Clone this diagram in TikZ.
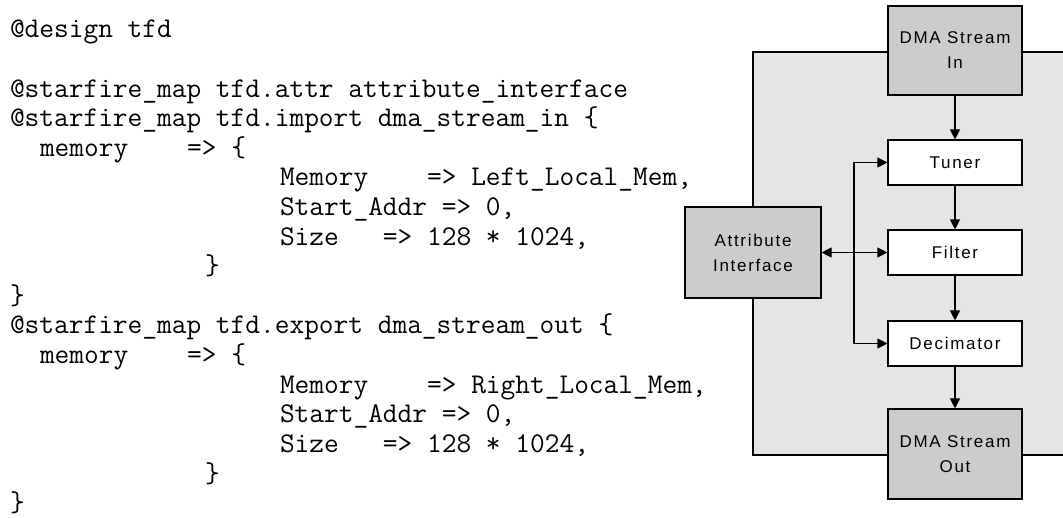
\documentclass[tikz,border=0pt]{standalone}
\usepackage{fontspec}
\setmainfont{Liberation Sans}
\newfontfamily\diagfont{Liberation Sans}[LetterSpace=10]
\usetikzlibrary{arrows.meta}
\definecolor{bggray}{HTML}{E5E5E5}
\definecolor{boxgray}{HTML}{CCCCCC}
\newcommand\codefont{\ttfamily\fontsize{28.57}{30}\selectfont}
\newcommand\blkfont{\diagfont\fontsize{17}{25}\selectfont}
\begin{document}
\begin{tikzpicture}[x=1pt,y=-1pt,
  code/.style={anchor=base west, inner sep=0pt, outer sep=0pt, font=\codefont},
  blk/.style={draw, line width=1.1pt, minimum width=134pt, font=\blkfont, align=center, inner sep=0pt},
  graybox/.style={blk, fill=boxgray},
  whitebox/.style={blk, fill=white, minimum height=45pt},
  conn/.style={line width=1.1pt, -{Triangle[length=10pt,width=10pt]}},
  biconn/.style={line width=1.1pt, {Triangle[length=10pt,width=10pt]}-{Triangle[length=10pt,width=10pt]}}]
\useasboundingbox (0,0) rectangle (1063,518);
\clip (0,0) rectangle (1063,518);
\fill[white] (0,0) rectangle (1063,518);

% code listing
\node[code] (l1) at (10,38) {@design tfd};
\node[code] (l3) at (10,97.2) {@starfire\_map tfd.attr attribute\_interface};
\node[code] (l4) at (10,126.8) {@starfire\_map tfd.import dma\_stream\_in \{};
\node[code] (l5) at (40,156.4) {memory\ \ \ \ => \{};
\node[code] (l6) at (280,186) {Memory\ \ \ \ => Left\_Local\_Mem,};
\node[code] (l7) at (280,215.6) {Start\_Addr => 0,};
\node[code] (l8) at (280,245.2) {Size\ \ \ => 128 * 1024,};
\node[code] (l9) at (205,274.8) {\}};
\node[code] (l10) at (10,304.4) {\}};
\node[code] (l11) at (10,334) {@starfire\_map tfd.export dma\_stream\_out \{};
\node[code] (l12) at (40,363.6) {memory\ \ \ \ => \{};
\node[code] (l13) at (280,393.2) {Memory\ \ \ \ => Right\_Local\_Mem,};
\node[code] (l14) at (280,422.8) {Start\_Addr => 0,};
\node[code] (l15) at (280,452.4) {Size\ \ \ => 128 * 1024,};
\node[code] (l16) at (205,482) {\}};
\node[code] (l17) at (10,511.6) {\}};

% background panel
\fill[bggray] (753,52) rectangle (1075,455);
\draw[line width=1.1pt] (1075,52) -- (753,52) -- (753,455) -- (1075,455);

% blocks
\node[graybox, minimum height=89pt] (dmain) at (955,50.5) {DMA Stream\\In};
\node[whitebox] (tuner) at (955,162.5) {Tuner};
\node[whitebox] (filter) at (955,252.5) {Filter};
\node[whitebox] (decim) at (955,343.5) {Decimator};
\node[graybox, minimum height=90pt] (dmaout) at (955,454) {DMA Stream\\Out};
\node[graybox, minimum width=136pt, minimum height=91pt] (attr) at (753,252.5) {Attribute\\Interface};

% connectors
\draw[conn] (dmain) -- (tuner);
\draw[conn] (tuner) -- (filter);
\draw[conn] (filter) -- (decim);
\draw[conn] (decim) -- (dmaout);
\coordinate (j) at (854,252.5);
\draw[biconn] (attr.east) -- (filter.west);
\draw[conn] (j) |- (tuner.west);
\draw[conn] (j) |- (decim.west);
\end{tikzpicture}
\end{document}
